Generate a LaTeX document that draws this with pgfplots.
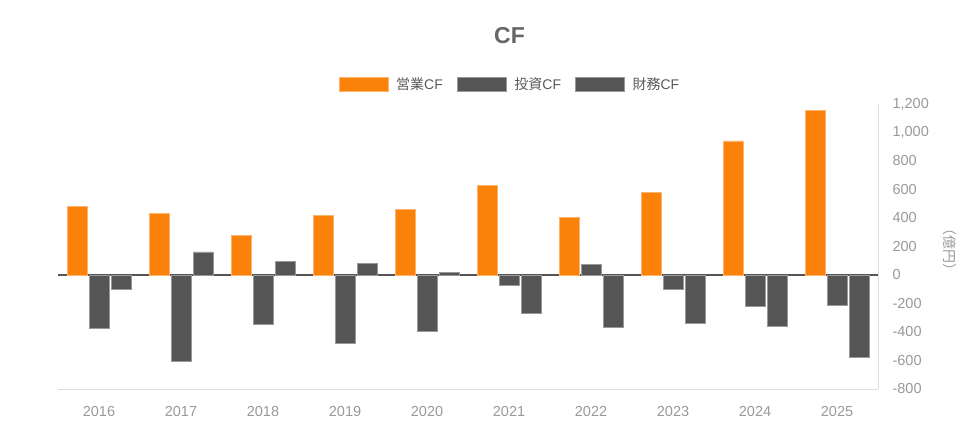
\documentclass[border=0pt]{standalone}
\usepackage{pgfplots}
\pgfplotsset{compat=1.18}
\usepackage{fontspec}
\setmainfont{Liberation Sans}
\newfontfamily\jp{Noto Sans CJK JP}
\definecolor{cforange}{HTML}{FA820A}
\definecolor{cfgrey}{HTML}{555555}
\definecolor{ticklab}{HTML}{999999}
\definecolor{axgrey}{HTML}{DDDDDD}
\begin{document}
\begin{tikzpicture}[x=1pt,y=1pt]
\useasboundingbox (0,0) rectangle (972,431);
\node[font=\fontsize{23}{26}\selectfont\bfseries, text=black!60] at (509.5,395) {CF};
\begin{axis}[
  at={(58pt,42pt)}, anchor=south west,
  scale only axis, width=820pt, height=285pt,
  ybar, bar width=19.5pt,
  xmin=-0.5, xmax=9.5, ymin=-800, ymax=1200,
  xtick={0,...,9},
  xticklabels={2016,2017,2018,2019,2020,2021,2022,2023,2024,2025},
  ytick={-800,-600,...,1200},
  axis x line*=bottom, axis y line*=right,
  axis line style={axgrey, line width=0.8pt},
  major tick length=0pt,
  tick label style={font=\fontsize{14.5}{16}\selectfont, text=ticklab},
  xticklabel style={yshift=-14pt},
  yticklabel style={anchor=west, xshift=11pt},
  /pgf/number format/.cd, assume math mode=true, set thousands separator={,}, 1000 sep={,},
  /pgfplots/.cd,
  ylabel={\jp （億円）},
  every axis y label/.style={at={(axis description cs:1.0875,0.49)}, rotate=-90, anchor=center, font=\fontsize{14}{16}\selectfont, text=ticklab},
  extra y ticks={0}, extra y tick labels={},
  extra y tick style={grid=major, major grid style={cfgrey, line width=1.3pt}},
  legend columns=3,
  legend style={at={(axis description cs:0.5512,1)}, anchor=south, yshift=9pt, draw=none, fill=none,
    font=\fontsize{14}{16}\selectfont, text=black!65,
    /tikz/every odd column/.style={column sep=6pt},
    /tikz/every even column/.style={column sep=12pt}},
  legend image code/.code={\fill[#1] (0pt,-7pt) rectangle (49pt,7pt);},
]
\addplot[fill=cforange, draw=cforange!60!white, line width=0.5pt, bar shift=-22pt] coordinates {
(0,481) (1,435) (2,276) (3,418) (4,463) (5,627) (6,402) (7,580) (8,942) (9,1155)};
\addplot[fill=cfgrey, draw=cfgrey!60!white, line width=0.5pt, bar shift=0pt] coordinates {
(0,-372) (1,-606) (2,-344) (3,-482) (4,-396) (5,-73) (6,77) (7,-98) (8,-218) (9,-211)};
\addplot[fill=cfgrey, draw=cfgrey!60!white, line width=0.5pt, bar shift=22pt] coordinates {
(0,-98) (1,163) (2,96) (3,84) (4,18) (5,-267) (6,-370) (7,-342) (8,-361) (9,-575)};
\legend{{\jp 営業}CF,{\jp 投資}CF,{\jp 財務}CF}
\end{axis}
\end{tikzpicture}
\end{document}
